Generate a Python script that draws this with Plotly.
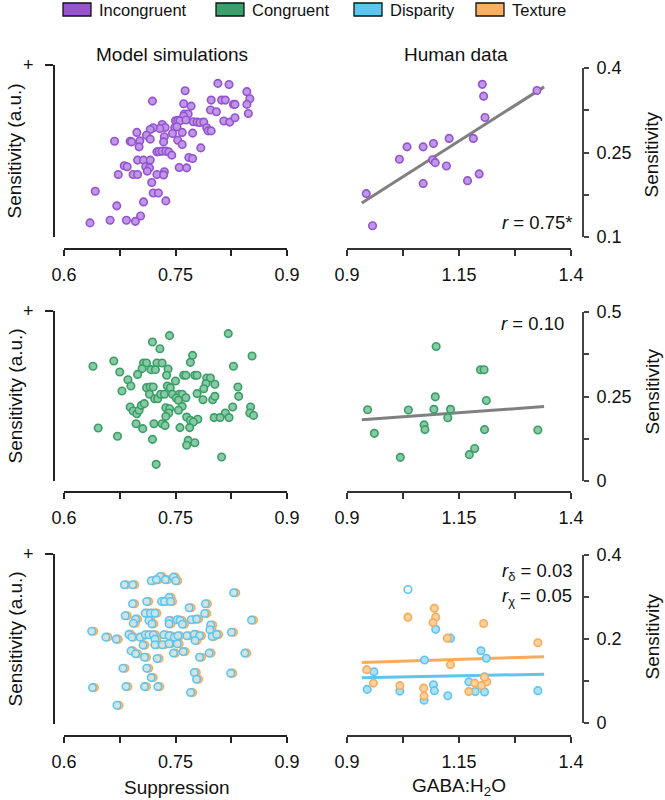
import numpy as np
import plotly.graph_objects as go

# ---------------- data ----------------
# Row 1: Incongruent
inc_model_x = [0.807, 0.822, 0.846, 0.763, 0.850, 0.719, 0.798, 0.812, 0.817, 0.828,
               0.830, 0.846, 0.761, 0.771, 0.797, 0.805, 0.848, 0.762, 0.767, 0.761,
               0.815, 0.823, 0.830, 0.750, 0.753, 0.756, 0.764, 0.774, 0.779, 0.783,
               0.788, 0.732, 0.736, 0.729, 0.720, 0.716, 0.749, 0.752, 0.792, 0.794,
               0.798, 0.698, 0.711, 0.746, 0.759, 0.773, 0.735, 0.668, 0.689, 0.691,
               0.702, 0.701, 0.716, 0.753, 0.734, 0.759, 0.784, 0.725, 0.728, 0.732,
               0.737, 0.741, 0.745, 0.699, 0.707, 0.716, 0.768, 0.773, 0.681, 0.685,
               0.710, 0.715, 0.712, 0.755, 0.765, 0.673, 0.693, 0.699, 0.725, 0.735,
               0.734, 0.718, 0.720, 0.727, 0.642, 0.707, 0.737, 0.671, 0.703, 0.662,
               0.684, 0.696, 0.635]
inc_model_y = [0.893, 0.887, 0.845, 0.850, 0.804, 0.790, 0.796, 0.796, 0.796, 0.771,
               0.771, 0.771, 0.775, 0.761, 0.738, 0.728, 0.718, 0.715, 0.715, 0.703,
               0.674, 0.668, 0.693, 0.676, 0.678, 0.676, 0.680, 0.670, 0.668, 0.666,
               0.668, 0.654, 0.637, 0.631, 0.635, 0.625, 0.637, 0.641, 0.635, 0.617,
               0.617, 0.608, 0.592, 0.602, 0.608, 0.604, 0.583, 0.557, 0.557, 0.553,
               0.559, 0.524, 0.569, 0.563, 0.553, 0.538, 0.518, 0.495, 0.497, 0.499,
               0.499, 0.495, 0.476, 0.447, 0.447, 0.447, 0.462, 0.456, 0.414, 0.408,
               0.408, 0.402, 0.383, 0.404, 0.402, 0.363, 0.363, 0.363, 0.363, 0.379,
               0.361, 0.317, 0.256, 0.256, 0.266, 0.204, 0.210, 0.181, 0.122, 0.097,
               0.097, 0.091, 0.082]
inc_human_x = [1.202, 1.205, 1.324, 1.208, 1.128, 1.182, 1.034, 1.070, 1.093, 1.017,
               1.091, 1.097, 1.122, 1.070, 1.169, 1.195, 0.943, 0.957]
inc_human_y = [0.371, 0.350, 0.360, 0.312, 0.275, 0.275, 0.260, 0.260, 0.266, 0.238,
               0.237, 0.232, 0.226, 0.195, 0.200, 0.212, 0.177, 0.120]

# Row 2: Congruent
con_model_x = [0.821, 0.742, 0.719, 0.729, 0.853, 0.773, 0.770, 0.639, 0.667, 0.675,
               0.828, 0.707, 0.711, 0.725, 0.732, 0.705, 0.717, 0.723, 0.740, 0.699,
               0.738, 0.686, 0.690, 0.750, 0.761, 0.764, 0.776, 0.779, 0.792, 0.797,
               0.803, 0.791, 0.788, 0.834, 0.835, 0.678, 0.711, 0.716, 0.720, 0.739,
               0.743, 0.715, 0.722, 0.726, 0.730, 0.735, 0.746, 0.755, 0.759, 0.764,
               0.779, 0.787, 0.800, 0.803, 0.751, 0.754, 0.689, 0.693, 0.698, 0.701,
               0.704, 0.708, 0.737, 0.742, 0.759, 0.754, 0.741, 0.737, 0.827, 0.851,
               0.850, 0.855, 0.817, 0.822, 0.802, 0.810, 0.765, 0.770, 0.780, 0.774,
               0.697, 0.706, 0.721, 0.732, 0.736, 0.646, 0.756, 0.769, 0.672, 0.719,
               0.767, 0.776, 0.765, 0.812, 0.724]
con_model_y = [0.867, 0.855, 0.818, 0.778, 0.735, 0.739, 0.698, 0.675, 0.706, 0.641,
               0.675, 0.694, 0.694, 0.694, 0.694, 0.661, 0.655, 0.655, 0.659, 0.627,
               0.622, 0.596, 0.559, 0.588, 0.622, 0.622, 0.622, 0.622, 0.606, 0.606,
               0.569, 0.573, 0.543, 0.553, 0.498, 0.529, 0.549, 0.553, 0.553, 0.559,
               0.549, 0.510, 0.484, 0.484, 0.510, 0.510, 0.510, 0.510, 0.510, 0.490,
               0.514, 0.478, 0.478, 0.498, 0.488, 0.475, 0.435, 0.412, 0.396, 0.416,
               0.445, 0.455, 0.431, 0.425, 0.439, 0.416, 0.400, 0.380, 0.435, 0.435,
               0.400, 0.386, 0.400, 0.373, 0.373, 0.373, 0.376, 0.357, 0.363, 0.347,
               0.337, 0.308, 0.337, 0.337, 0.327, 0.312, 0.314, 0.314, 0.263, 0.245,
               0.239, 0.225, 0.210, 0.141, 0.098]
con_human_x = [1.099, 1.198, 1.206, 1.097, 1.211, 0.946, 1.037, 1.094, 1.131, 1.125,
               1.072, 1.074, 0.961, 1.207, 1.326, 1.185, 1.173, 1.019]
con_human_y = [0.398, 0.329, 0.329, 0.249, 0.238, 0.211, 0.210, 0.212, 0.212, 0.187,
               0.166, 0.152, 0.141, 0.152, 0.151, 0.096, 0.078, 0.070]

# Row 3: Disparity / Texture (model simulations of both cues overlap)
cue_model_x = [0.732, 0.750, 0.720, 0.727, 0.739, 0.753, 0.684, 0.695, 0.831, 0.744,
               0.714, 0.734, 0.738, 0.746, 0.695, 0.793, 0.771, 0.792, 0.712, 0.719,
               0.725, 0.685, 0.699, 0.696, 0.717, 0.721, 0.744, 0.744, 0.755, 0.759,
               0.762, 0.774, 0.781, 0.855, 0.800, 0.799, 0.802, 0.808, 0.828, 0.640,
               0.659, 0.673, 0.690, 0.694, 0.705, 0.712, 0.717, 0.723, 0.725, 0.737,
               0.744, 0.751, 0.756, 0.768, 0.778, 0.785, 0.779, 0.709, 0.725, 0.735,
               0.744, 0.755, 0.693, 0.699, 0.711, 0.728, 0.750, 0.763, 0.785, 0.798,
               0.846, 0.682, 0.714, 0.778, 0.781, 0.827, 0.720, 0.641, 0.686, 0.711,
               0.729, 0.773, 0.674]
cue_model_y = [0.868, 0.864, 0.843, 0.849, 0.849, 0.843, 0.819, 0.819, 0.772, 0.745,
               0.721, 0.721, 0.721, 0.721, 0.707, 0.707, 0.684, 0.650, 0.652, 0.652,
               0.652, 0.637, 0.617, 0.593, 0.609, 0.589, 0.609, 0.589, 0.613, 0.609,
               0.587, 0.613, 0.617, 0.611, 0.582, 0.554, 0.515, 0.527, 0.540, 0.546,
               0.511, 0.499, 0.527, 0.511, 0.511, 0.525, 0.525, 0.525, 0.499, 0.525,
               0.519, 0.511, 0.519, 0.519, 0.527, 0.519, 0.491, 0.464, 0.466, 0.466,
               0.472, 0.472, 0.430, 0.413, 0.393, 0.385, 0.417, 0.426, 0.393, 0.417,
               0.417, 0.328, 0.328, 0.303, 0.263, 0.299, 0.273, 0.214, 0.220, 0.220,
               0.220, 0.185, 0.110]
disp_human_x = [1.098, 1.131, 1.199, 1.211, 1.073, 0.960, 1.172, 1.207, 1.093,
                0.945, 1.018, 1.095, 1.186, 1.207, 1.326, 1.125, 1.072]
disp_human_y = [0.223, 0.202, 0.172, 0.154, 0.150, 0.122, 0.098, 0.110, 0.091,
                0.080, 0.076, 0.077, 0.075, 0.074, 0.077, 0.065, 0.054]
disp_outlier_x = [1.036]   # open symbol, excluded from the fit
disp_outlier_y = [0.318]
tex_human_x = [1.095, 1.098, 1.036, 1.092, 1.205, 1.124, 1.326, 1.131, 0.944, 0.959,
               1.018, 1.185, 1.212, 1.207, 1.200, 1.071, 1.172, 1.072]
tex_human_y = [0.273, 0.252, 0.252, 0.239, 0.237, 0.202, 0.191, 0.139, 0.127, 0.095,
               0.089, 0.095, 0.098, 0.109, 0.089, 0.083, 0.075, 0.064]

fit_x_extent = [0.933, 1.340]

model_ticks = [0.6, 0.75, 0.9]
model_minor = [0.675, 0.825]
human_ticks = [0.9, 1.15, 1.4]
human_minor = [1.025, 1.275]
sens1_ticks, sens1_minor = [0.1, 0.25, 0.4], [0.175, 0.325]
sens2_ticks, sens2_minor = [0, 0.25, 0.5], [0.125, 0.375]
sens3_ticks, sens3_minor = [0, 0.2, 0.4], [0.1, 0.3]

legend_labels = ["Incongruent", "Congruent", "Disparity", "Texture"]
r_labels = ["<i>r</i> = 0.75*", "<i>r</i> = 0.10",
            "<i>r</i><sub>δ</sub> = 0.03", "<i>r</i><sub>χ</sub> = 0.05"]

# ---------------- style ----------------
W, H = 665, 800
FONT = "Liberation Sans, Arial, Helvetica, sans-serif"
PURPLE = dict(fill="rgb(190,152,230)", edge="rgb(150,82,208)", legend="rgb(152,84,204)")
GREEN = dict(fill="rgb(136,202,164)", edge="rgb(58,158,104)", legend="rgb(60,160,110)")
BLUE = dict(fill="rgb(172,224,247)", edge="rgb(92,198,240)", legend="rgb(92,198,240)")
ORANGE = dict(fill="rgb(250,208,156)", edge="rgb(247,172,92)", legend="rgb(250,176,96)")
BLUE_T = dict(fill="rgba(205,232,242,0.8)", edge="rgb(92,198,240)")


def X(p):
    return p / W


def Y(p):
    return 1 - p / H


fig = go.Figure()


def pts(x, y, c, xa, ya, size=7.5):
    fig.add_trace(go.Scatter(x=x, y=y, mode="markers", xaxis=xa, yaxis=ya,
                             showlegend=False, cliponaxis=False, hoverinfo="skip",
                             marker=dict(size=size, color=c["fill"],
                                         line=dict(color=c["edge"], width=1.6))))


def fitline(x, y, color, xa, ya):
    k, b = np.polyfit(np.array(x), np.array(y), 1)
    xs = np.array(fit_x_extent)
    fig.add_trace(go.Scatter(x=xs, y=k * xs + b, mode="lines", xaxis=xa, yaxis=ya,
                             showlegend=False, cliponaxis=False, hoverinfo="skip",
                             line=dict(color=color, width=3)))


GRAY = "rgb(128,128,128)"
# row 1
pts(inc_model_x, inc_model_y, PURPLE, "x", "y")
fitline(inc_human_x, inc_human_y, GRAY, "x2", "y2")
pts(inc_human_x, inc_human_y, PURPLE, "x2", "y2")
# row 2
pts(con_model_x, con_model_y, GREEN, "x3", "y3")
fitline(con_human_x, con_human_y, GRAY, "x4", "y4")
pts(con_human_x, con_human_y, GREEN, "x4", "y4")
# row 3: texture on the base axis, disparity on an overlay axis drawn on top, 2 px to the left
pts(cue_model_x, cue_model_y, ORANGE, "x5", "y5")
pts(cue_model_x, cue_model_y, BLUE_T, "x7", "y5")
fitline(tex_human_x, tex_human_y, ORANGE["edge"], "x6", "y6")
fitline(disp_human_x, disp_human_y, BLUE["edge"], "x6", "y6")
pts(disp_human_x, disp_human_y, BLUE, "x6", "y6")
pts(disp_outlier_x, disp_outlier_y, dict(fill="white", edge=BLUE["edge"]), "x6", "y6")
pts(tex_human_x, tex_human_y, ORANGE, "x6", "y6")

AX = dict(showgrid=False, zeroline=False, showline=True, linewidth=2,
          ticks="outside", tickwidth=2, ticklen=6, automargin=False,
          tickfont=dict(family=FONT, size=18, color="#111"), fixedrange=True)


def minor(vals, color, ln):
    return dict(tickvals=vals, ticks="outside", ticklen=ln, tickwidth=2,
                tickcolor=color, showgrid=False)


LEFT_DOM = [X(64), X(287)]
RIGHT_DOM = [X(347), X(571)]

rows = [
    ((65, 237), (68, 237), 249, sens1_ticks, sens1_minor, [0.1, 0.4]),
    ((311, 481), (312, 481), 492, sens2_ticks, sens2_minor, [0, 0.5]),
    ((554, 724), (555, 723), 736, sens3_ticks, sens3_minor, [0, 0.4]),
]

layout_axes = {}
for i, (ld, rd, xl, st, sm, rr) in enumerate(rows):
    n = 2 * i + 1
    lx = "xaxis" if n == 1 else f"xaxis{n}"
    ly = "yaxis" if n == 1 else f"yaxis{n}"
    rx = f"xaxis{n + 1}"
    ry = f"yaxis{n + 1}"
    layout_axes[lx] = dict(AX, domain=LEFT_DOM, anchor="free", position=Y(xl),
                           range=[0.6, 0.9], tickmode="array", tickvals=model_ticks,
                           minor=minor(model_minor, "#222", 6),
                           linecolor="#222", tickcolor="#222", ticklabelstandoff=3)
    layout_axes[ly] = dict(AX, domain=[Y(ld[1]), Y(ld[0])], anchor="free", position=X(54),
                           range=[0, 1], tickvals=[1], ticktext=["+"], ticklen=8,
                           linecolor="#222", tickcolor="#222", ticklabelstandoff=8)
    layout_axes[rx] = dict(AX, domain=RIGHT_DOM, anchor="free", position=Y(xl),
                           range=[0.9, 1.4], tickmode="array", tickvals=human_ticks,
                           minor=minor(human_minor, "#333", 6),
                           linecolor="#333", tickcolor="#333", ticklabelstandoff=3)
    layout_axes[ry] = dict(AX, domain=[Y(rd[1]), Y(rd[0])], anchor="free", position=X(583),
                           side="right", range=rr, tickmode="array", tickvals=st,
                           minor=minor(sm, "#444", 5), ticklen=5,
                           linecolor="#444", tickcolor="#444", ticklabelstandoff=4)

# overlay axis: disparity model markers drawn a couple of pixels left of texture
layout_axes["xaxis7"] = dict(overlaying="x5", domain=LEFT_DOM, anchor="y5",
                             range=[0.6 + 0.0027, 0.9 + 0.0027], visible=False,
                             fixedrange=True)

annotations = []


def txt(text, x, y, size=19, xanchor="center", yanchor="middle", angle=0):
    annotations.append(dict(text=text, x=X(x), y=Y(y), xref="paper", yref="paper",
                            showarrow=False, xanchor=xanchor, yanchor=yanchor,
                            textangle=angle, font=dict(family=FONT, size=size, color="#111")))


txt("Model simulations", 172, 55)
txt("Human data", 456, 55)
for cy in (151, 396, 639):
    txt("Sensitivity (a.u.)", 2, cy, angle=-90, xanchor="left")
for cy in (155, 392, 637):
    txt("Sensitivity", 664, cy, angle=-90, xanchor="right")
txt("Suppression", 177, 787)
txt("GABA:H<sub>2</sub>O", 459, 787)
txt(r_labels[0], 574, 222, size=18.5, xanchor="right")
txt(r_labels[1], 566, 323, size=18.5, xanchor="right")
txt(r_labels[2], 574, 572, size=18.5, xanchor="right")
txt(r_labels[3], 574, 597, size=18.5, xanchor="right")

shapes = []
legend_boxes = [(63, PURPLE), (216, GREEN), (354, BLUE), (476, ORANGE)]
for (bx, c), lab in zip(legend_boxes, legend_labels):
    shapes.append(dict(type="rect", xref="paper", yref="paper",
                       x0=X(bx), x1=X(bx + 28), y0=Y(16), y1=Y(3),
                       fillcolor=c["legend"], line=dict(color="#111", width=1.3)))
    txt(lab, bx + 34, 10, size=16.5, xanchor="left")

fig.update_layout(width=W, height=H,
                  margin=dict(l=0, r=0, t=0, b=0, pad=0, autoexpand=False),
                  paper_bgcolor="white", plot_bgcolor="white",
                  font=dict(family=FONT, color="#111"), hovermode=False,
                  annotations=annotations, shapes=shapes, showlegend=False,
                  **layout_axes)

fig.write_html("out.html", config={"displayModeBar": False, "staticPlot": True},
               post_script="document.body.style.margin='0';"
                           "document.body.style.overflow='hidden';")
